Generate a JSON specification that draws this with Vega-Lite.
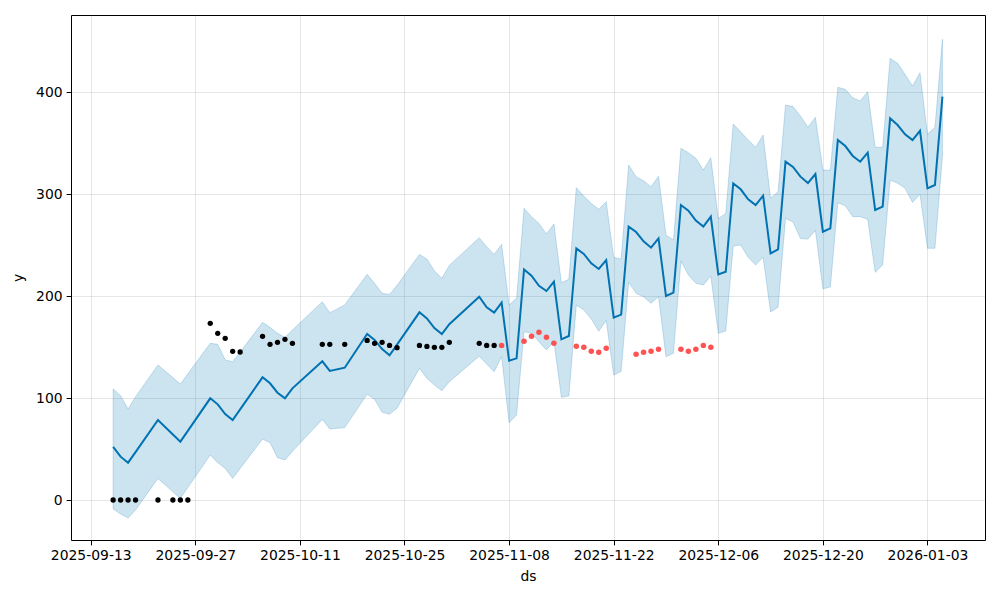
{
  "$schema": "https://vega.github.io/schema/vega-lite/v6.json",
  "width": 914,
  "height": 525,
  "autosize": {"type": "none"},
  "padding": {"left": 71, "top": 15, "right": 15, "bottom": 60},
  "background": "white",
  "config": {
    "view": {"stroke": "black", "strokeWidth": 1},
    "font": "DejaVu Sans",
    "axis": {
      "domain": false,
      "grid": true,
      "gridColor": "#808080",
      "gridOpacity": 0.2,
      "gridWidth": 1,
      "tickColor": "black",
      "tickSize": 4.9,
      "tickWidth": 1,
      "labelPadding": 4,
      "labelFont": "DejaVu Sans",
      "labelFontSize": 13.9,
      "labelColor": "black",
      "titleFont": "DejaVu Sans",
      "titleFontSize": 13.9,
      "titleFontWeight": "normal",
      "titleColor": "black"
    }
  },
  "datasets": {
    "fcst": [
      {"ds": "2025-09-16", "yhat": 52, "lo": -8.8, "hi": 108.8},
      {"ds": "2025-09-17", "yhat": 42.5, "lo": -13.7, "hi": 102.3},
      {"ds": "2025-09-18", "yhat": 36.6, "lo": -17.6, "hi": 89.2},
      {"ds": "2025-09-19", "yhat": 47, "lo": -9.8, "hi": 101.3},
      {"ds": "2025-09-22", "yhat": 78.4, "lo": 21.2, "hi": 132.4},
      {"ds": "2025-09-24", "yhat": 64.3, "lo": 8, "hi": 120},
      {"ds": "2025-09-25", "yhat": 57.2, "lo": 1.6, "hi": 113.7},
      {"ds": "2025-09-26", "yhat": 67.8, "lo": 12.2, "hi": 123.7},
      {"ds": "2025-09-29", "yhat": 99.7, "lo": 44.1, "hi": 153.6},
      {"ds": "2025-09-30", "yhat": 93.8, "lo": 36.6, "hi": 152.6},
      {"ds": "2025-10-01", "yhat": 84.3, "lo": 31, "hi": 137.3},
      {"ds": "2025-10-02", "yhat": 78.4, "lo": 21.2, "hi": 135.6},
      {"ds": "2025-10-03", "yhat": 88.9, "lo": 30.9, "hi": 145},
      {"ds": "2025-10-06", "yhat": 120.3, "lo": 59.8, "hi": 174.2},
      {"ds": "2025-10-07", "yhat": 114.4, "lo": 56.2, "hi": 169.3},
      {"ds": "2025-10-08", "yhat": 105.2, "lo": 41.5, "hi": 163.4},
      {"ds": "2025-10-09", "yhat": 99.7, "lo": 39.2, "hi": 159.5},
      {"ds": "2025-10-10", "yhat": 109.5, "lo": 47.7, "hi": 166.7},
      {"ds": "2025-10-14", "yhat": 136, "lo": 79, "hi": 194.4},
      {"ds": "2025-10-15", "yhat": 126.5, "lo": 69.6, "hi": 183.7},
      {"ds": "2025-10-17", "yhat": 129.7, "lo": 71, "hi": 191.2},
      {"ds": "2025-10-20", "yhat": 162.7, "lo": 103.6, "hi": 221.3},
      {"ds": "2025-10-21", "yhat": 156.9, "lo": 98.7, "hi": 212.4},
      {"ds": "2025-10-22", "yhat": 148, "lo": 86, "hi": 202.6},
      {"ds": "2025-10-23", "yhat": 141.8, "lo": 84, "hi": 201.6},
      {"ds": "2025-10-24", "yhat": 152.4, "lo": 90, "hi": 210.5},
      {"ds": "2025-10-27", "yhat": 184, "lo": 129, "hi": 240.8},
      {"ds": "2025-10-28", "yhat": 178, "lo": 119.3, "hi": 236.3},
      {"ds": "2025-10-29", "yhat": 168.5, "lo": 112.7, "hi": 224.8},
      {"ds": "2025-10-30", "yhat": 162.7, "lo": 107.2, "hi": 217.3},
      {"ds": "2025-10-31", "yhat": 172.3, "lo": 116, "hi": 230},
      {"ds": "2025-11-04", "yhat": 199.3, "lo": 141, "hi": 257.2},
      {"ds": "2025-11-05", "yhat": 188.9, "lo": 133.3, "hi": 248.4},
      {"ds": "2025-11-06", "yhat": 183.7, "lo": 125.8, "hi": 240.8},
      {"ds": "2025-11-07", "yhat": 193.5, "lo": 140.5, "hi": 250.7},
      {"ds": "2025-11-08", "yhat": 136.6, "lo": 75.8, "hi": 191.2},
      {"ds": "2025-11-09", "yhat": 138.9, "lo": 83.3, "hi": 197.7},
      {"ds": "2025-11-10", "yhat": 226.1, "lo": 165, "hi": 286},
      {"ds": "2025-11-11", "yhat": 220, "lo": 163.4, "hi": 277.8},
      {"ds": "2025-11-12", "yhat": 210, "lo": 155.2, "hi": 271.2},
      {"ds": "2025-11-13", "yhat": 204.9, "lo": 147, "hi": 260.8},
      {"ds": "2025-11-14", "yhat": 214, "lo": 155.2, "hi": 270.6},
      {"ds": "2025-11-15", "yhat": 157.5, "lo": 100.7, "hi": 213},
      {"ds": "2025-11-16", "yhat": 160.8, "lo": 102, "hi": 216.4},
      {"ds": "2025-11-17", "yhat": 246.7, "lo": 191.2, "hi": 306.2},
      {"ds": "2025-11-18", "yhat": 241.2, "lo": 186.3, "hi": 298},
      {"ds": "2025-11-19", "yhat": 232, "lo": 177.5, "hi": 290.8},
      {"ds": "2025-11-20", "yhat": 226.5, "lo": 165.5, "hi": 285},
      {"ds": "2025-11-21", "yhat": 235.2, "lo": 176, "hi": 292.5},
      {"ds": "2025-11-22", "yhat": 178.8, "lo": 122.5, "hi": 237.8},
      {"ds": "2025-11-23", "yhat": 181.8, "lo": 126, "hi": 236.3},
      {"ds": "2025-11-24", "yhat": 268, "lo": 213.4, "hi": 328.4},
      {"ds": "2025-11-25", "yhat": 262.7, "lo": 202.6, "hi": 317},
      {"ds": "2025-11-26", "yhat": 253.6, "lo": 199.3, "hi": 313},
      {"ds": "2025-11-27", "yhat": 247.4, "lo": 192.8, "hi": 307.2},
      {"ds": "2025-11-28", "yhat": 256.5, "lo": 199.3, "hi": 317.3},
      {"ds": "2025-11-29", "yhat": 200, "lo": 140.5, "hi": 259.8},
      {"ds": "2025-11-30", "yhat": 203.3, "lo": 143.8, "hi": 255},
      {"ds": "2025-12-01", "yhat": 289.2, "lo": 234.3, "hi": 344.8},
      {"ds": "2025-12-02", "yhat": 283.7, "lo": 220.6, "hi": 340.5},
      {"ds": "2025-12-03", "yhat": 273.9, "lo": 212.4, "hi": 335},
      {"ds": "2025-12-04", "yhat": 268, "lo": 210.8, "hi": 323.5},
      {"ds": "2025-12-05", "yhat": 277.8, "lo": 219.6, "hi": 335.6},
      {"ds": "2025-12-06", "yhat": 221.2, "lo": 163.4, "hi": 276},
      {"ds": "2025-12-07", "yhat": 223.8, "lo": 165.7, "hi": 281},
      {"ds": "2025-12-08", "yhat": 310.4, "lo": 249, "hi": 368.6},
      {"ds": "2025-12-09", "yhat": 304.6, "lo": 250, "hi": 361},
      {"ds": "2025-12-10", "yhat": 294.8, "lo": 237.9, "hi": 353},
      {"ds": "2025-12-11", "yhat": 289.2, "lo": 230.4, "hi": 345.8},
      {"ds": "2025-12-12", "yhat": 298.4, "lo": 238, "hi": 357.8},
      {"ds": "2025-12-13", "yhat": 241.8, "lo": 184.3, "hi": 295.8},
      {"ds": "2025-12-14", "yhat": 245.8, "lo": 189, "hi": 302.3},
      {"ds": "2025-12-15", "yhat": 331.7, "lo": 276.1, "hi": 387.3},
      {"ds": "2025-12-16", "yhat": 326.5, "lo": 272.5, "hi": 385.8},
      {"ds": "2025-12-17", "yhat": 317, "lo": 256.3, "hi": 376.5},
      {"ds": "2025-12-18", "yhat": 310.7, "lo": 255.8, "hi": 365.4},
      {"ds": "2025-12-19", "yhat": 319.6, "lo": 264.3, "hi": 375.2},
      {"ds": "2025-12-20", "yhat": 263, "lo": 207, "hi": 323.5},
      {"ds": "2025-12-21", "yhat": 266.3, "lo": 208.8, "hi": 323.5},
      {"ds": "2025-12-22", "yhat": 352.9, "lo": 291.4, "hi": 404.6},
      {"ds": "2025-12-23", "yhat": 347, "lo": 288.4, "hi": 402.6},
      {"ds": "2025-12-24", "yhat": 337.3, "lo": 277.8, "hi": 394.4},
      {"ds": "2025-12-25", "yhat": 331.7, "lo": 277.8, "hi": 391.2},
      {"ds": "2025-12-26", "yhat": 340.5, "lo": 275.2, "hi": 400.3},
      {"ds": "2025-12-27", "yhat": 284.3, "lo": 223.2, "hi": 345.8},
      {"ds": "2025-12-28", "yhat": 287.6, "lo": 230.4, "hi": 345.8},
      {"ds": "2025-12-29", "yhat": 374.2, "lo": 313.7, "hi": 433},
      {"ds": "2025-12-30", "yhat": 367.6, "lo": 310.5, "hi": 428.1},
      {"ds": "2025-12-31", "yhat": 358.5, "lo": 305.6, "hi": 417.3},
      {"ds": "2026-01-01", "yhat": 352.9, "lo": 291.8, "hi": 405.9},
      {"ds": "2026-01-02", "yhat": 362, "lo": 299.7, "hi": 418.9},
      {"ds": "2026-01-03", "yhat": 305.6, "lo": 246.8, "hi": 358.5},
      {"ds": "2026-01-04", "yhat": 308.8, "lo": 246.8, "hi": 365.4},
      {"ds": "2026-01-05", "yhat": 395.4, "lo": 336.6, "hi": 451.7}
    ],
    "hist": [
      {"ds": "2025-09-16", "y": 0},
      {"ds": "2025-09-17", "y": 0},
      {"ds": "2025-09-18", "y": 0},
      {"ds": "2025-09-19", "y": 0},
      {"ds": "2025-09-22", "y": 0},
      {"ds": "2025-09-24", "y": 0},
      {"ds": "2025-09-25", "y": 0},
      {"ds": "2025-09-26", "y": 0},
      {"ds": "2025-09-29", "y": 173.2},
      {"ds": "2025-09-30", "y": 163.4},
      {"ds": "2025-10-01", "y": 158.5},
      {"ds": "2025-10-02", "y": 145.8},
      {"ds": "2025-10-03", "y": 145.1},
      {"ds": "2025-10-06", "y": 160.5},
      {"ds": "2025-10-07", "y": 152.6},
      {"ds": "2025-10-08", "y": 154.6},
      {"ds": "2025-10-09", "y": 157.5},
      {"ds": "2025-10-10", "y": 153.6},
      {"ds": "2025-10-14", "y": 152.6},
      {"ds": "2025-10-15", "y": 152.6},
      {"ds": "2025-10-17", "y": 152.6},
      {"ds": "2025-10-20", "y": 156.5},
      {"ds": "2025-10-21", "y": 153.6},
      {"ds": "2025-10-22", "y": 154.6},
      {"ds": "2025-10-23", "y": 151.6},
      {"ds": "2025-10-24", "y": 149.3},
      {"ds": "2025-10-27", "y": 151.6},
      {"ds": "2025-10-28", "y": 150.6},
      {"ds": "2025-10-29", "y": 149.7},
      {"ds": "2025-10-30", "y": 149.7},
      {"ds": "2025-10-31", "y": 154.6},
      {"ds": "2025-11-04", "y": 153.6},
      {"ds": "2025-11-05", "y": 151.6},
      {"ds": "2025-11-06", "y": 151.6}
    ],
    "test": [
      {"ds": "2025-11-07", "y": 151.6},
      {"ds": "2025-11-10", "y": 155.6},
      {"ds": "2025-11-11", "y": 160.5},
      {"ds": "2025-11-12", "y": 164.4},
      {"ds": "2025-11-13", "y": 159.5},
      {"ds": "2025-11-14", "y": 153.6},
      {"ds": "2025-11-17", "y": 150.7},
      {"ds": "2025-11-18", "y": 149.7},
      {"ds": "2025-11-19", "y": 145.8},
      {"ds": "2025-11-20", "y": 144.8},
      {"ds": "2025-11-21", "y": 148.7},
      {"ds": "2025-11-25", "y": 142.8},
      {"ds": "2025-11-26", "y": 144.8},
      {"ds": "2025-11-27", "y": 145.8},
      {"ds": "2025-11-28", "y": 147.7},
      {"ds": "2025-12-01", "y": 147.7},
      {"ds": "2025-12-02", "y": 145.8},
      {"ds": "2025-12-03", "y": 147.7},
      {"ds": "2025-12-04", "y": 151.6},
      {"ds": "2025-12-05", "y": 149.7}
    ]
  },
  "encoding": {
    "x": {
      "field": "ds", "type": "temporal", "title": "ds",
      "scale": {"type": "utc", "domain": [
        {"year": 2025, "month": 9, "date": 10, "hours": 8, "minutes": 40, "utc": true},
        {"year": 2026, "month": 1, "date": 10, "hours": 16, "minutes": 48, "utc": true}
      ]},
      "axis": {
        "labelExpr": "utcFormat(datum.value, '%Y-%m-%d')", "labelAngle": 0, "titlePadding": 7,
        "values": [
          {"year": 2025, "month": 9, "date": 13, "utc": true},
          {"year": 2025, "month": 9, "date": 27, "utc": true},
          {"year": 2025, "month": 10, "date": 11, "utc": true},
          {"year": 2025, "month": 10, "date": 25, "utc": true},
          {"year": 2025, "month": 11, "date": 8, "utc": true},
          {"year": 2025, "month": 11, "date": 22, "utc": true},
          {"year": 2025, "month": 12, "date": 6, "utc": true},
          {"year": 2025, "month": 12, "date": 20, "utc": true},
          {"year": 2026, "month": 1, "date": 3, "utc": true}
        ]
      }
    }
  },
  "layer": [
    {
      "data": {"name": "fcst"},
      "mark": {"type": "area", "color": "#0072B2", "fillOpacity": 0.2, "stroke": "#0072B2", "strokeOpacity": 0.2, "strokeWidth": 1},
      "encoding": {
        "y": {
          "field": "lo", "type": "quantitative", "title": "y",
          "scale": {"domain": [-39.2, 475.5], "nice": false, "zero": false},
          "axis": {"values": [0, 100, 200, 300, 400], "titlePadding": 10}
        },
        "y2": {"field": "hi"}
      }
    },
    {
      "data": {"name": "fcst"},
      "mark": {"type": "line", "color": "#0072B2", "strokeWidth": 2},
      "encoding": {
        "y": {"field": "yhat", "type": "quantitative", "title": "y"}
      }
    },
    {
      "data": {"name": "hist"},
      "mark": {"type": "circle", "color": "black", "size": 28, "opacity": 1},
      "encoding": {
        "y": {"field": "y", "type": "quantitative", "title": "y"}
      }
    },
    {
      "data": {"name": "test"},
      "mark": {"type": "circle", "color": "#ff4040", "size": 30, "opacity": 0.9},
      "encoding": {
        "y": {"field": "y", "type": "quantitative", "title": "y"}
      }
    }
  ]
}
